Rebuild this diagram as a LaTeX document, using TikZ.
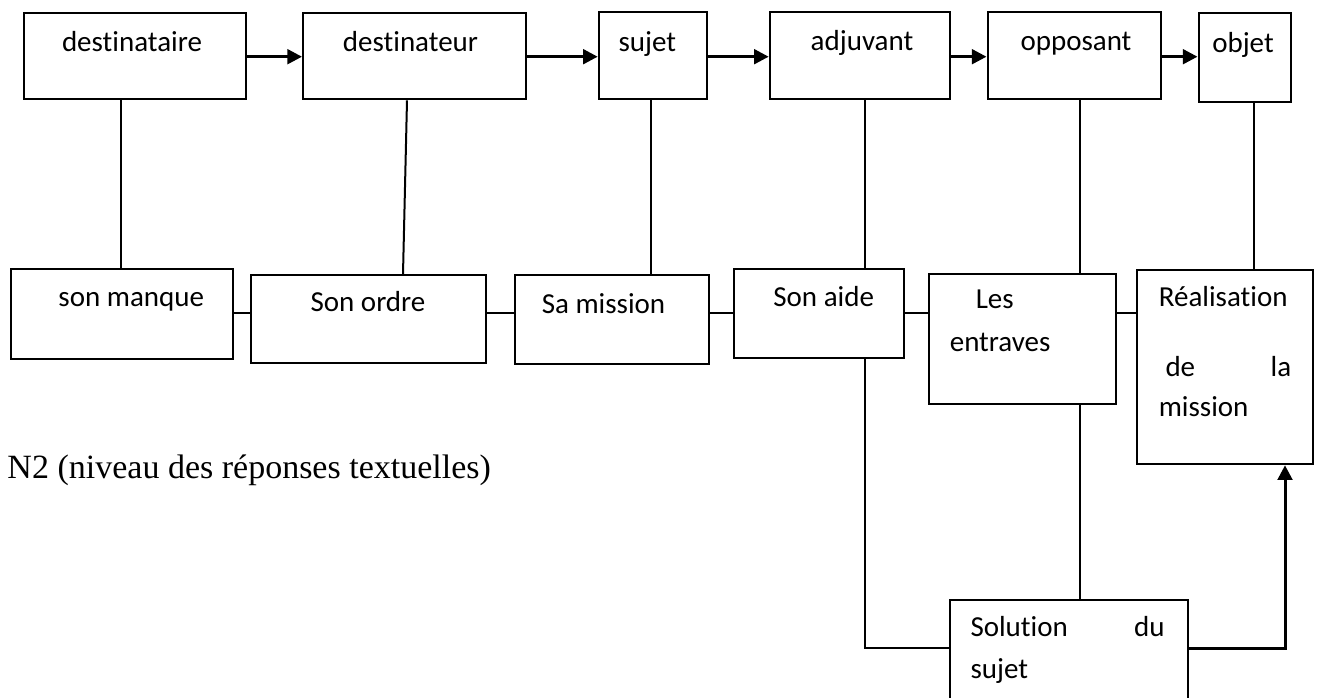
\documentclass[tikz,border=0pt]{standalone}
\usepackage{fontspec}
\usepackage{tikz}
\usetikzlibrary{arrows.meta,calc}
\newfontfamily\boxfont[Ligatures=NoCommon]{Carlito}
\newfontfamily\serfont{Liberation Serif}
\tikzset{every picture/.style={line width=0.75pt}}
\tikzset{
  box/.style={draw,line width=1.5pt,rectangle,anchor=north west,inner sep=0pt},
  lbl/.style={inner sep=0pt,font=\boxfont\fontsize{21.75}{26}\selectfont},
  link/.style={line width=1.5pt},
  arr/.style={line width=2.25pt,-{Triangle[length=11pt,width=11pt]}}
}

\begin{document}
\begin{tikzpicture}[x=0.75pt,y=0.75pt,yscale=-1,xscale=1]
\useasboundingbox (0,0) rectangle (1322,697);
%top row
\node[box,minimum width=166.95pt,minimum height=64.5pt] (destinataire) at (22.7,12.3) {};
\node[box,minimum width=167.5pt,minimum height=64.5pt] (destinateur) at (302,12.3) {};
\node[box,minimum width=80.85pt,minimum height=65.7pt] (sujet) at (597.7,10.7) {};
\node[box,minimum width=135.45pt,minimum height=65.7pt] (adjuvant) at (768.7,10.7) {};
\node[box,minimum width=130.1pt,minimum height=65.7pt] (opposant) at (986.5,10.7) {};
\node[box,minimum width=69.4pt,minimum height=66.3pt] (objet) at (1197.5,12.3) {};
% Text Node
\node[lbl,anchor=base] (t1) at (132,51.7) {destinataire};
\node[lbl,anchor=base] (t2) at (410.5,51.7) {destinateur};
\node[lbl,anchor=base west] (t3) at (618,51) {sujet};
\node[lbl,anchor=base] (t4) at (862,50) {adjuvant};
\node[lbl,anchor=base] (t5) at (1076,50) {opposant};
\node[lbl,anchor=base] (t6) at (1243,52.5) {objet};
%bottom row
\node[box,minimum width=166.3pt,minimum height=67.5pt] (manque) at (10,267.7) {};
\node[box,minimum width=176.25pt,minimum height=66.2pt] (ordre) at (249.5,274) {};
\node[box,minimum width=145.05pt,minimum height=66.75pt] (mission) at (514.3,274.3) {};
\node[box,minimum width=127.5pt,minimum height=66.75pt] (aide) at (732.7,268.3) {};
\node[box,minimum width=140.6pt,minimum height=97.5pt] (entraves) at (927.7,273.3) {};
\node[box,minimum width=132.2pt,minimum height=145.5pt] (realisation) at (1136,269.3) {};
\node[box,minimum width=178pt,minimum height=77.5pt] (solution) at (949.3,598.7) {};
% Text Node
\node[lbl,anchor=base] (t7) at (131.3,306.7) {son manque};
\node[lbl,anchor=base] (t8) at (368,311.7) {Son ordre};
\node[lbl,anchor=base] (t9) at (603.5,313) {Sa mission};
\node[lbl,anchor=base] (t10) at (823.7,306.7) {Son aide};
\node[lbl,anchor=base west] (t11) at (975.3,308) {Les};
\node[lbl,anchor=base west] (t12) at (949.3,351) {entraves};
\node[lbl,anchor=base west] (t13) at (1158.3,306.7) {Réalisation};
\node[lbl,anchor=base west] (t14) at (1165,376.5) {de};
\node[lbl,anchor=base east] (t15) at (1291.7,376.5) {la};
\node[lbl,anchor=base west] (t16) at (1158.3,416) {mission};
\node[lbl,anchor=base west] (t17) at (970,636.7) {Solution};
\node[lbl,anchor=base east] (t18) at (1165,636.7) {du};
\node[lbl,anchor=base west] (t19) at (970,678.3) {sujet};
\node[inner sep=0pt,anchor=base west,font=\serfont\fontsize{25.5}{30}\selectfont] (niveau) at (7,478) {N2 (niveau des réponses textuelles)};
%arrows between top boxes
\draw[arr] (destinataire.east |- 0,56.7) -- (destinateur.west |- 0,56.7);
\draw[arr] (destinateur.east |- 0,56.7) -- (sujet.west |- 0,56.7);
\draw[arr] (sujet.east |- 0,56.7) -- (adjuvant.west |- 0,56.7);
\draw[arr] (adjuvant.east |- 0,56.7) -- (opposant.west |- 0,56.7);
\draw[arr] (opposant.east |- 0,56.7) -- (objet.west |- 0,56.7);
%vertical links
\draw[link] (121,0 |- destinataire.south) -- (121,0 |- manque.north);
\draw[link] (407,0 |- destinateur.south) -- (403,0 |- ordre.north);
\draw[link] (651,0 |- sujet.south) -- (651,0 |- mission.north);
\draw[link] (865,0 |- adjuvant.south) -- (865,0 |- aide.north);
\draw[link] (1079.5,0 |- opposant.south) -- (1079.5,0 |- entraves.north);
\draw[link] (1254,0 |- objet.south) -- (1254,0 |- realisation.north);
%horizontal links
\draw[link] (manque.east |- 0,312.5) -- (ordre.west |- 0,312.5);
\draw[link] (ordre.east |- 0,312.5) -- (mission.west |- 0,312.5);
\draw[link] (mission.east |- 0,312.5) -- (aide.west |- 0,312.5);
\draw[link] (aide.east |- 0,312.5) -- (entraves.west |- 0,312.5);
\draw[link] (entraves.east |- 0,312.5) -- (realisation.west |- 0,312.5);
%solution
\draw[link] (865,0 |- aide.south) |- (solution.west |- 0,648.3);
\draw[link] (1079.5,0 |- entraves.south) -- (1079.5,0 |- solution.north);
\draw[arr] (solution.east |- 0,648.3) -| (1285,0 |- realisation.south);
\end{tikzpicture}
\end{document}
